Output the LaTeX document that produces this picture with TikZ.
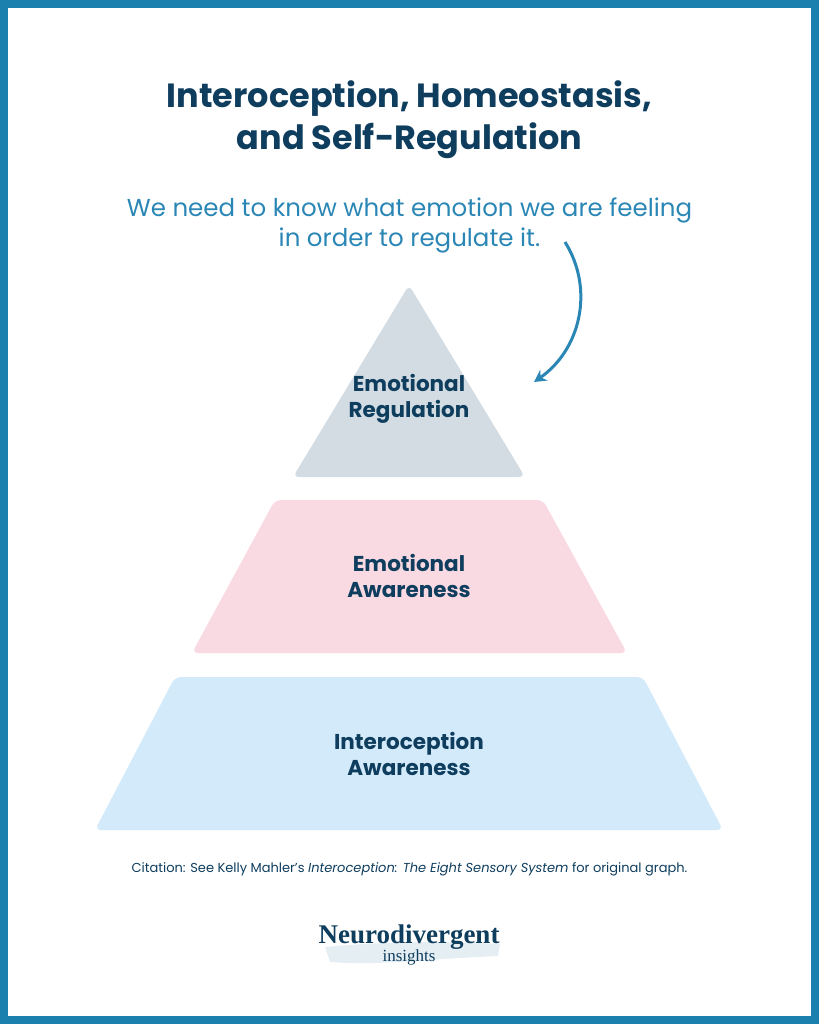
\documentclass[tikz,border=0pt]{standalone}
\usepackage{fontspec}
\setmainfont{Poppins}
\newfontfamily\logofont{Liberation Serif}
\usepackage{tikz}
\usetikzlibrary{arrows.meta, positioning}
\definecolor{frameblue}{HTML}{1C80AE}
\definecolor{navy}{HTML}{0E3D5E}
\definecolor{subblue}{HTML}{2A86B5}
\definecolor{topgray}{HTML}{D3DCE3}
\definecolor{midpink}{HTML}{FADAE2}
\definecolor{baseblue}{HTML}{D3EAFB}
\definecolor{brush}{HTML}{E4EEF3}
\begin{document}
\begin{tikzpicture}[x=1pt, y=-1pt,
	level/.style={draw=none, rounded corners=6pt},
	lab/.style={text=navy, font=\fontsize{21.5}{26}\selectfont\bfseries, align=center}]

\useasboundingbox (0,0) rectangle (819,1024);
\draw[frameblue, line width=8pt] (4,4) rectangle (815,1020); % frame

\node[text=navy, font=\fontsize{33.5}{42}\selectfont\bfseries, align=center] (title) at (409.5,120) {Interoception, Homeostasis,\\and Self-Regulation};
\node[text=subblue, font=\fontsize{24.5}{30}\selectfont, align=center] (sub) at (409.5,225) {We need to know what emotion we are feeling\\in order to regulate it.};

% pyramid
\fill[topgray, level] (409,285) -- (525,477) -- (293,477) -- cycle;
\fill[midpink, level] (275,500) -- (543,500) -- (627,653) -- (192,653) -- cycle;
\fill[baseblue, level] (175,677) -- (643,677) -- (723,830) -- (95,830) -- cycle;

\node[lab] (top) at (409,399) {Emotional\\Regulation};
\node[lab] (mid) at (409,576) {Emotional\\Awareness};
\node[lab] (base) at (409,754) {Interoception\\Awareness};

% arrow
\coordinate (arrstart) at (565,242);
\coordinate (arrend) at (534,382);
\draw[subblue, line width=3pt, -{Stealth[length=12pt, width=13pt]}] (arrstart) .. controls (595,290) and (580,350) .. (arrend);

\node[text=navy, font=\fontsize{13}{15}\selectfont] (cite) at (409.5,869) {Citation: See Kelly Mahler's \textit{Interoception: The Eight Sensory System} for original graph.};

% logo
\fill[brush] (325,947) .. controls (400,940) and (460,942) .. (500,944) -- (498,956) .. controls (440,958) and (380,966) .. (330,962) -- cycle;
\node[text=navy, font=\logofont\fontsize{27}{30}\selectfont\bfseries] (logo) at (409,937) {Neurodivergent};
\node[text=navy, font=\logofont\fontsize{17}{20}\selectfont, below=-7pt of logo] (ins) {insights};

\end{tikzpicture}
\end{document}
